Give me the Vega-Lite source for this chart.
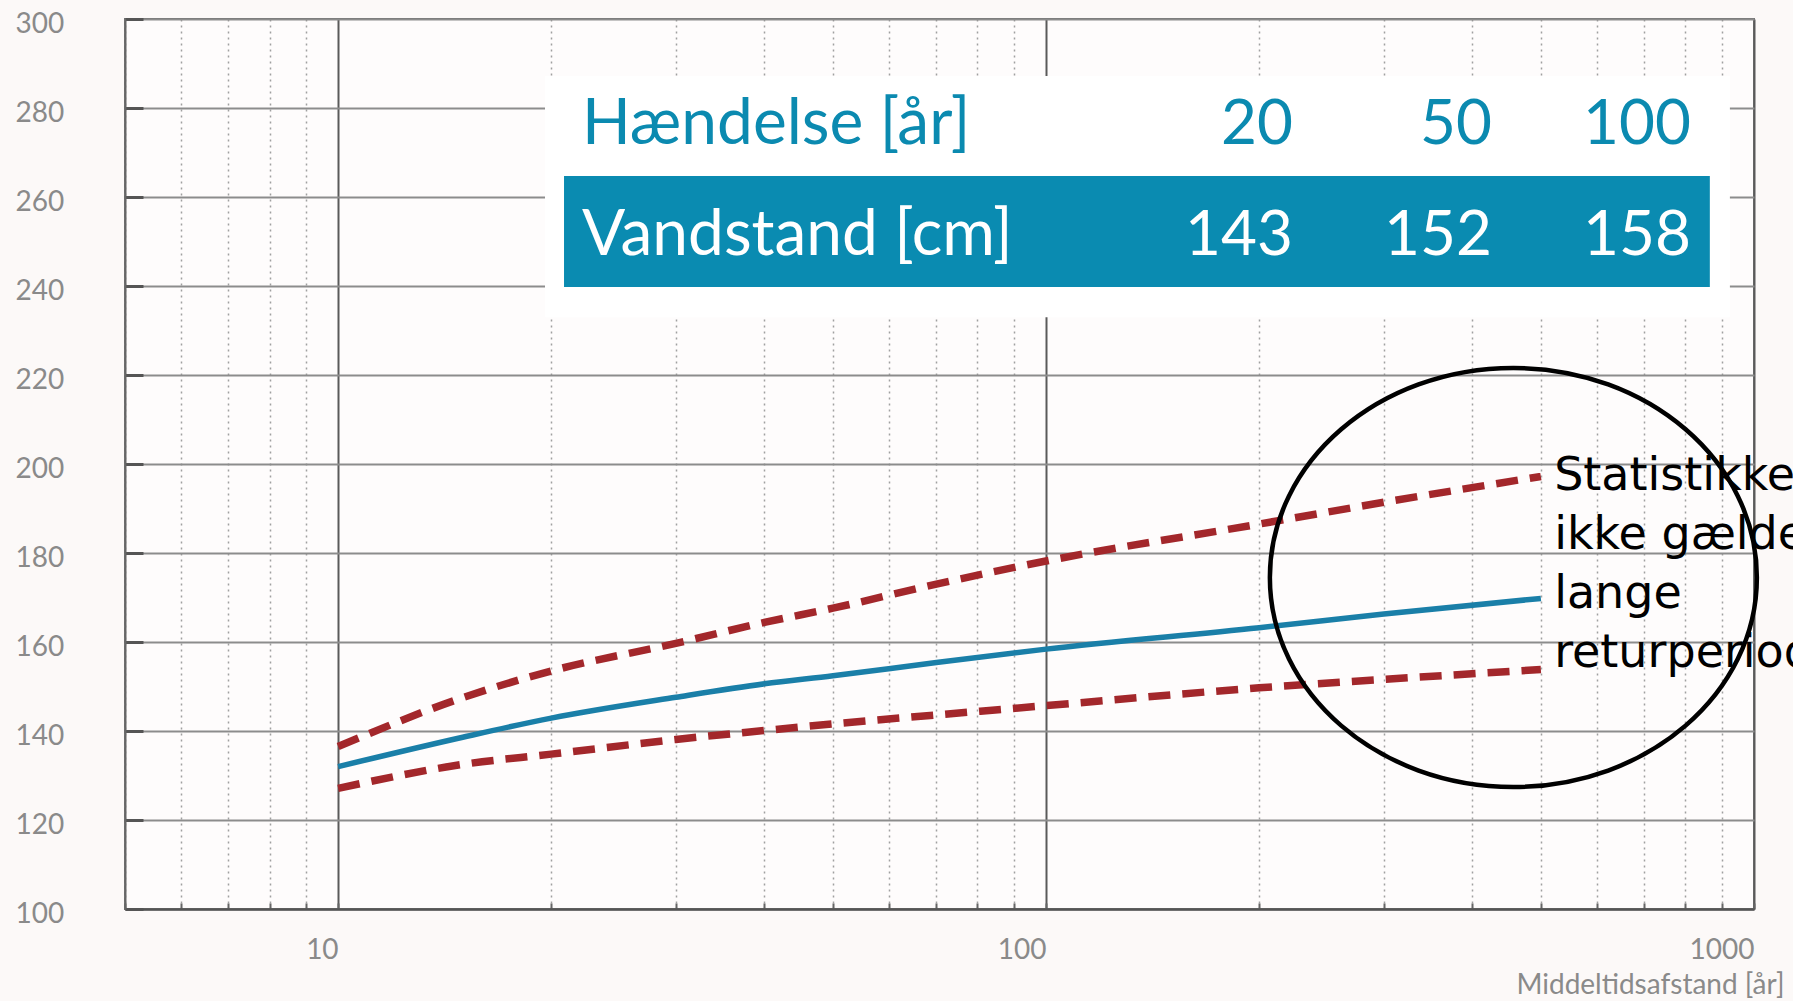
{
  "$schema": "https://vega.github.io/schema/vega-lite/v6.json",
  "width": 1629,
  "height": 890,
  "autosize": {"type": "none"},
  "padding": {"left": 125, "top": 19, "right": 39, "bottom": 92},
  "background": "#fcf9f8",
  "config": {
    "view": {"stroke": "#707070", "strokeWidth": 2, "fill": "#fefcfc"},
    "font": "Lato"
  },
  "resolve": {"scale": {"x": "independent"}, "axis": {"x": "independent"}},
  "layer": [
    {
      "layer": [
        {
          "data": {"values": [
            {"T": 10, "serie": "estimat", "cm": 132.0},
            {"T": 15, "serie": "estimat", "cm": 138.6},
            {"T": 20, "serie": "estimat", "cm": 142.9},
            {"T": 30, "serie": "estimat", "cm": 147.6},
            {"T": 40, "serie": "estimat", "cm": 150.6},
            {"T": 50, "serie": "estimat", "cm": 152.4},
            {"T": 70, "serie": "estimat", "cm": 155.4},
            {"T": 100, "serie": "estimat", "cm": 158.4},
            {"T": 200, "serie": "estimat", "cm": 163.2},
            {"T": 300, "serie": "estimat", "cm": 166.3},
            {"T": 500, "serie": "estimat", "cm": 169.8},
            {"T": 10, "serie": "øvre", "cm": 136.5},
            {"T": 15, "serie": "øvre", "cm": 147.5},
            {"T": 20, "serie": "øvre", "cm": 153.5},
            {"T": 30, "serie": "øvre", "cm": 159.7},
            {"T": 40, "serie": "øvre", "cm": 164.4},
            {"T": 50, "serie": "øvre", "cm": 167.6},
            {"T": 70, "serie": "øvre", "cm": 173.0},
            {"T": 100, "serie": "øvre", "cm": 178.2},
            {"T": 200, "serie": "øvre", "cm": 186.5},
            {"T": 300, "serie": "øvre", "cm": 191.4},
            {"T": 500, "serie": "øvre", "cm": 197.2},
            {"T": 10, "serie": "nedre", "cm": 127.1},
            {"T": 15, "serie": "nedre", "cm": 132.5},
            {"T": 20, "serie": "nedre", "cm": 134.8},
            {"T": 30, "serie": "nedre", "cm": 138.1},
            {"T": 40, "serie": "nedre", "cm": 140.1},
            {"T": 50, "serie": "nedre", "cm": 141.6},
            {"T": 70, "serie": "nedre", "cm": 143.6},
            {"T": 100, "serie": "nedre", "cm": 145.7},
            {"T": 200, "serie": "nedre", "cm": 149.7},
            {"T": 300, "serie": "nedre", "cm": 151.6},
            {"T": 500, "serie": "nedre", "cm": 153.8}
          ]},
          "layer": [
            {
              "transform": [{"filter": "datum.serie !== 'estimat'"}],
              "mark": {"type": "line", "color": "#a3272b", "strokeWidth": 7.5, "strokeDash": [22, 12], "interpolate": "monotone", "strokeCap": "butt"},
              "encoding": {
                "detail": {"field": "serie"},
                "x": {
                  "field": "T", "type": "quantitative",
                  "scale": {"type": "log", "domain": [5, 1000], "nice": false},
                  "axis": {
                    "values": [5, 6, 7, 8, 9, 10, 20, 30, 40, 50, 60, 70, 80, 90, 100, 200, 300, 400, 500, 600, 700, 800, 900, 1000],
                    "format": "d",
                    "labelExpr": "datum.value == 10 || datum.value == 100 || datum.value == 1000 ? datum.label : ''",
                    "labelAlign": "right",
                    "labelBaseline": "top",
                    "labelFlush": false,
                    "labelPadding": 33,
                    "labelFontSize": 28,
                    "labelColor": "#8a8a8a",
                    "labelFont": "Lato",
                    "domainColor": "#555555",
                    "domainWidth": 2.5,
                    "ticks": true,
                    "tickSize": -6,
                    "tickColor": "#666666",
                    "tickWidth": 2,
                    "grid": true,
                    "gridColor": {"condition": {"test": "datum.value == 10 || datum.value == 100 || datum.value == 1000", "value": "#5a5a5a"}, "value": "#a0a0a0"},
                    "gridWidth": {"condition": {"test": "datum.value == 10 || datum.value == 100 || datum.value == 1000", "value": 2}, "value": 1.5},
                    "gridDash": {"condition": {"test": "datum.value == 10 || datum.value == 100 || datum.value == 1000", "value": []}, "value": [2, 4]},
                    "title": "Middeltidsafstand [år]",
                    "titleFont": "Lato",
                    "titleFontSize": 28,
                    "titleFontWeight": "normal",
                    "titleColor": "#8a8a8a",
                    "titleAlign": "right",
                    "titleBaseline": "alphabetic",
                    "titleX": 1659,
                    "titleY": 84
                  }
                },
                "y": {
                  "field": "cm", "type": "quantitative",
                  "scale": {"domain": [100, 300], "nice": false, "zero": false},
                  "axis": {
                    "values": [100, 120, 140, 160, 180, 200, 220, 240, 260, 280, 300],
                    "title": null,
                    "labelAlign": "left",
                    "labelBaseline": "middle",
                    "labelOffset": 5,
                    "labelPadding": 128,
                    "labelFlush": false,
                    "labelFontSize": 28,
                    "labelColor": "#8a8a8a",
                    "labelFont": "Lato",
                    "domainColor": "#666666",
                    "domainWidth": 2,
                    "ticks": true,
                    "tickSize": -18,
                    "tickWidth": 3,
                    "tickColor": "#555555",
                    "grid": true,
                    "gridColor": "#8c8c8c",
                    "gridWidth": 2.2
                  }
                }
              }
            },
            {
              "transform": [{"filter": "datum.serie === 'estimat'"}],
              "mark": {"type": "line", "color": "#1a7fa8", "strokeWidth": 5.5, "interpolate": "monotone"},
              "encoding": {
                "x": {"field": "T", "type": "quantitative", "scale": {"type": "log", "domain": [5, 1000], "nice": false}},
                "y": {"field": "cm", "type": "quantitative", "scale": {"domain": [100, 300], "nice": false, "zero": false}}
              }
            }
          ]
        },
        {
          "data": {"values": [{"boks": "tabel"}]},
          "mark": {"type": "rect", "fill": "#ffffff"},
          "encoding": {
            "x": {"datum": 19.6, "type": "quantitative", "scale": {"type": "log", "domain": [5, 1000], "nice": false}},
            "x2": {"datum": 924.6},
            "y": {"datum": 287.2, "type": "quantitative", "scale": {"domain": [100, 300], "nice": false, "zero": false}},
            "y2": {"datum": 233.0}
          }
        },
        {
          "data": {"values": [{"boks": "band"}]},
          "mark": {"type": "rect", "fill": "#0a8bb1"},
          "encoding": {
            "x": {"datum": 20.85, "type": "quantitative", "scale": {"type": "log", "domain": [5, 1000], "nice": false}},
            "x2": {"datum": 866.2},
            "y": {"datum": 264.7, "type": "quantitative", "scale": {"domain": [100, 300], "nice": false, "zero": false}},
            "y2": {"datum": 239.8}
          }
        },
        {
          "data": {"values": [{"tekst": "Hændelse [år]"}]},
          "mark": {"type": "text", "font": "Lato", "fontSize": 64, "color": "#0b8ab0", "align": "left", "baseline": "alphabetic"},
          "encoding": {
            "text": {"field": "tekst"},
            "x": {"datum": 22.1, "type": "quantitative", "scale": {"type": "log", "domain": [5, 1000], "nice": false}},
            "y": {"datum": 271.9, "type": "quantitative", "scale": {"domain": [100, 300], "nice": false, "zero": false}}
          }
        },
        {
          "data": {"values": [{"tekst": "Vandstand [cm]"}]},
          "mark": {"type": "text", "font": "Lato", "fontSize": 64, "color": "#ffffff", "align": "left", "baseline": "alphabetic"},
          "encoding": {
            "text": {"field": "tekst"},
            "x": {"datum": 22.1, "type": "quantitative", "scale": {"type": "log", "domain": [5, 1000], "nice": false}},
            "y": {"datum": 247.0, "type": "quantitative", "scale": {"domain": [100, 300], "nice": false, "zero": false}}
          }
        },
        {
          "data": {"values": [{"form": "ellipse"}]},
          "mark": {"type": "point", "filled": false, "stroke": "#000000", "strokeWidth": 4.5, "opacity": 1,
            "shape": "M -1 0 C -1 -0.4752 -0.5523 -0.8604 0 -0.8604 C 0.5523 -0.8604 1 -0.4752 1 0 C 1 0.4752 0.5523 0.8604 0 0.8604 C -0.5523 0.8604 -1 0.4752 -1 0 Z",
            "size": 237169},
          "encoding": {
            "x": {"datum": 457.2, "type": "quantitative", "scale": {"type": "log", "domain": [5, 1000], "nice": false}},
            "y": {"datum": 174.5, "type": "quantitative", "scale": {"domain": [100, 300], "nice": false, "zero": false}}
          }
        },
        {
          "data": {"values": [{"note": ["Statistikken", "ikke gælder for", "lange", "returperioder"]}]},
          "mark": {"type": "text", "font": "DejaVu Sans", "fontSize": 46, "lineHeight": 59, "color": "#000000", "align": "left", "baseline": "alphabetic"},
          "encoding": {
            "text": {"field": "note"},
            "x": {"datum": 522, "type": "quantitative", "scale": {"type": "log", "domain": [5, 1000], "nice": false}},
            "y": {"datum": 194.2, "type": "quantitative", "scale": {"domain": [100, 300], "nice": false, "zero": false}}
          }
        }
      ]
    },
    {
      "data": {"values": [
        {"periode": "20", "vandstand": "143"},
        {"periode": "50", "vandstand": "152"},
        {"periode": "100", "vandstand": "158"}
      ]},
      "layer": [
        {
          "mark": {"type": "text", "font": "Lato", "fontSize": 62, "color": "#0b8ab0", "align": "right", "baseline": "alphabetic"},
          "encoding": {
            "text": {"field": "periode"},
            "x": {"field": "periode", "type": "ordinal", "sort": null, "scale": {"type": "point", "range": [1168, 1566], "padding": 0}, "axis": null},
            "y": {"datum": 271.9, "type": "quantitative"}
          }
        },
        {
          "mark": {"type": "text", "font": "Lato", "fontSize": 62, "color": "#ffffff", "align": "right", "baseline": "alphabetic"},
          "encoding": {
            "text": {"field": "vandstand"},
            "x": {"field": "periode", "type": "ordinal", "sort": null, "scale": {"type": "point", "range": [1168, 1566], "padding": 0}, "axis": null},
            "y": {"datum": 247.0, "type": "quantitative"}
          }
        }
      ]
    }
  ]
}
